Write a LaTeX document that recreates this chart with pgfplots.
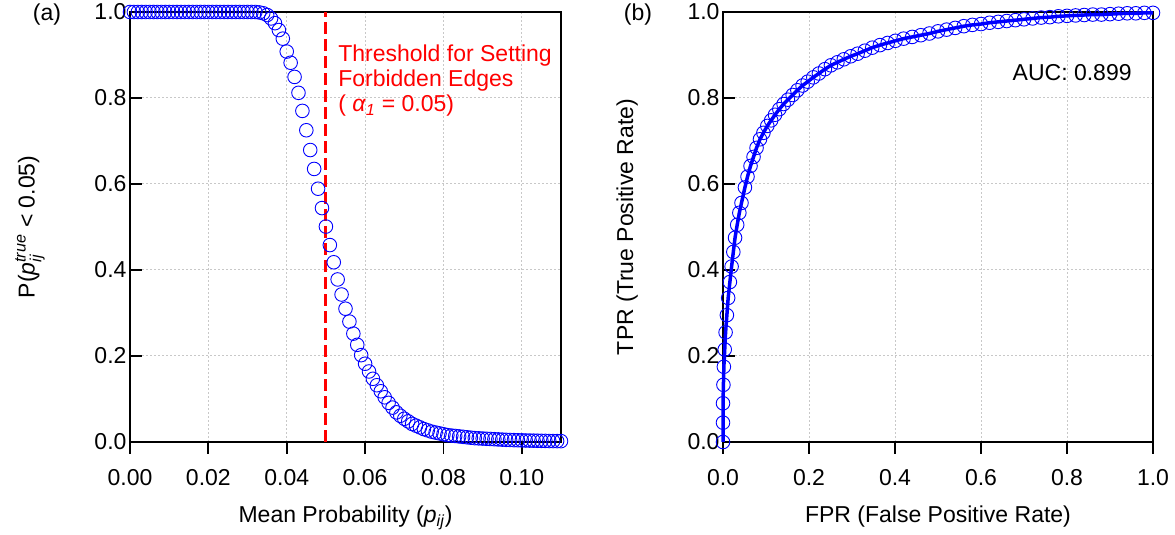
\documentclass[border=0pt]{standalone}
\usepackage{pgfplots}
\usepackage{pgfplotstable}
\pgfplotsset{compat=1.18}
\usepackage{amsmath}
\usepackage{fontspec}
\setmainfont{Liberation Sans}
\definecolor{pblue}{RGB}{0,0,255}
\definecolor{pred}{RGB}{255,0,0}
\definecolor{gridgray}{RGB}{200,200,200}

\pgfplotstableread{
x y
0.000 1.000
0.001 1.000
0.002 1.000
0.003 1.000
0.004 1.000
0.005 1.000
0.006 1.000
0.007 1.000
0.008 1.000
0.009 1.000
0.010 1.000
0.011 1.000
0.012 1.000
0.013 1.000
0.014 1.000
0.015 1.000
0.016 1.000
0.017 1.000
0.018 1.000
0.019 1.000
0.020 1.000
0.021 1.000
0.022 1.000
0.023 1.000
0.024 1.000
0.025 1.000
0.026 1.000
0.027 1.000
0.028 1.000
0.029 1.000
0.030 1.000
0.031 1.000
0.032 1.000
0.033 0.999
0.034 0.997
0.035 0.993
0.036 0.985
0.037 0.974
0.038 0.958
0.039 0.938
0.040 0.908
0.041 0.882
0.042 0.849
0.043 0.812
0.044 0.770
0.045 0.725
0.046 0.679
0.047 0.635
0.048 0.589
0.049 0.544
0.050 0.501
0.051 0.458
0.052 0.418
0.053 0.378
0.054 0.343
0.055 0.310
0.056 0.280
0.057 0.252
0.058 0.226
0.059 0.202
0.060 0.182
0.061 0.164
0.062 0.147
0.063 0.132
0.064 0.118
0.065 0.104
0.066 0.091
0.067 0.080
0.068 0.069
0.069 0.061
0.070 0.054
0.071 0.048
0.072 0.042
0.073 0.038
0.074 0.034
0.075 0.030
0.076 0.027
0.077 0.024
0.078 0.022
0.079 0.020
0.080 0.018
0.081 0.016
0.082 0.015
0.083 0.014
0.084 0.013
0.085 0.012
0.086 0.011
0.087 0.010
0.088 0.009
0.089 0.0085
0.090 0.008
0.091 0.0075
0.092 0.007
0.093 0.0065
0.094 0.006
0.095 0.0055
0.096 0.005
0.097 0.0047
0.098 0.0044
0.099 0.0041
0.100 0.0038
0.101 0.0035
0.102 0.0033
0.103 0.0031
0.104 0.0029
0.105 0.0027
0.106 0.0025
0.107 0.0023
0.108 0.0022
0.109 0.0021
0.110 0.0020
}\probtable

\pgfplotstableread{
x y
0.000 0.000
0.000 0.045
0.000 0.090
0.001 0.133
0.002 0.175
0.004 0.215
0.006 0.255
0.009 0.295
0.012 0.335
0.016 0.372
0.020 0.408
0.024 0.442
0.028 0.475
0.033 0.505
0.038 0.533
0.043 0.556
0.051 0.592
0.057 0.617
0.064 0.642
0.071 0.663
0.078 0.684
0.086 0.704
0.094 0.719
0.103 0.735
0.112 0.748
0.121 0.761
0.131 0.774
0.141 0.786
0.151 0.796
0.162 0.807
0.173 0.818
0.185 0.829
0.197 0.838
0.210 0.848
0.223 0.857
0.237 0.867
0.251 0.876
0.266 0.883
0.281 0.890
0.297 0.897
0.313 0.903
0.330 0.910
0.347 0.917
0.365 0.923
0.383 0.928
0.401 0.933
0.420 0.938
0.440 0.942
0.460 0.946
0.480 0.950
0.500 0.955
0.520 0.959
0.540 0.963
0.560 0.967
0.580 0.970
0.600 0.972
0.620 0.975
0.640 0.977
0.660 0.979
0.680 0.981
0.700 0.983
0.720 0.985
0.740 0.987
0.760 0.988
0.780 0.990
0.800 0.991
0.820 0.992
0.840 0.993
0.860 0.994
0.880 0.994
0.900 0.995
0.920 0.996
0.940 0.997
0.960 0.997
0.980 0.998
1.000 0.998
}\roctable

\newcommand{\bigf}{\fontsize{23}{27}\selectfont}

\pgfplotsset{
  mypanel/.style={
    scale only axis, height=430pt,
    ymin=0, ymax=1, ytick={0,0.2,0.4,0.6,0.8,1.0},
    axis line style={line width=1.8pt, black},
    tick style={line width=1.8pt, black},
    major tick length=12pt,
    xtick align=outside, ytick align=inside,
    xtick pos=bottom, ytick pos=left,
    grid=major,
    major grid style={gridgray, line width=1pt, dash pattern=on 2pt off 2pt},
    tick label style={font=\bigf},
    /pgf/number format/assume math mode=true,
    yticklabel style={/pgf/number format/.cd, fixed, fixed zerofill, precision=1},
    scaled x ticks=false, scaled y ticks=false,
    clip=false,
    every axis x label/.style={at={(axis description cs:0.5,-0.188)}, anchor=base, font=\bigf},
  },
}

\begin{document}
\begin{tikzpicture}
\path[use as bounding box] (0,0) rectangle (1175pt,535pt);

\begin{axis}[mypanel,
  at={(130pt,93pt)}, anchor=south west, width=431pt,
  xmin=0, xmax=0.11,
  xtick={0,0.02,0.04,0.06,0.08,0.10},
  xticklabel style={yshift=-12pt, /pgf/number format/.cd, fixed, fixed zerofill, precision=2},
  xlabel={Mean Probability (\textit{p}\textsubscript{\textit{ij}})},
  ylabel={P($\textit{p}_{\textit{ij}}^{\textit{true}}$ < 0.05)},
  every axis y label/.style={at={(axis description cs:-0.232,0.5)}, rotate=90, anchor=center, font=\bigf},
]
\addplot[pblue, line width=0.9pt, only marks, mark=o, mark size=6.8pt] table {\probtable};
\addplot[pred, line width=3pt, dash pattern=on 12pt off 5pt] coordinates {(0.05,0) (0.05,1)};
\node[pred, anchor=base west, inner sep=0pt, font=\bigf] at (axis cs:0.0531,0.8844) {Threshold for Setting};
\node[pred, anchor=base west, inner sep=0pt, font=\bigf] at (axis cs:0.0531,0.8263) {Forbidden Edges};
\node[pred, anchor=base west, inner sep=0pt, font=\bigf] at (axis cs:0.0531,0.768) {( \textit{α}\textsubscript{\textit{1}} = 0.05)};
\end{axis}

\begin{axis}[mypanel,
  at={(723pt,93pt)}, anchor=south west, width=430pt,
  xmin=0, xmax=1,
  xtick={0,0.2,0.4,0.6,0.8,1.0},
  xticklabel style={yshift=-12pt, /pgf/number format/.cd, fixed, fixed zerofill, precision=1},
  xlabel={FPR (False Positive Rate)},
  ylabel={TPR (True Positive Rate)},
  every axis y label/.style={at={(axis description cs:-0.223,0.5)}, rotate=90, anchor=center, font=\bigf},
]
\addplot[pblue, line width=0.9pt, only marks, mark=o, mark size=6.8pt] table {\roctable};
\addplot[pblue, line width=3.5pt, no marks] table {\roctable};
\node[black, anchor=center, font=\bigf] at (axis cs:0.812,0.859) {AUC: 0.899};
\end{axis}

\node[font=\bigf] at (47pt,520pt) {(a)};
\node[font=\bigf] at (638pt,520pt) {(b)};
\end{tikzpicture}
\end{document}
